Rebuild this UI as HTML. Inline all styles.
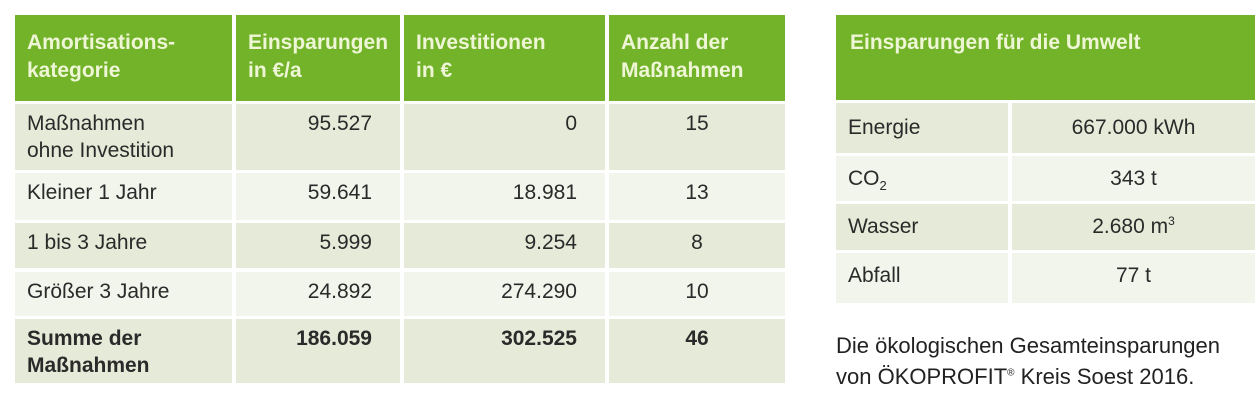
<!DOCTYPE html>
<html><head><meta charset="utf-8"><style>
body{margin:0;width:1260px;height:402px;background:#fff;position:relative;overflow:hidden;font-family:"Liberation Sans Narrow","Liberation Sans",sans-serif;color:#2a2a2a}
.c{position:absolute;box-sizing:border-box;font-size:21px;line-height:27px;padding:6px 12px}
.h{background:#72b32a;color:#eef6d6;font-weight:bold;font-size:21px;line-height:28px;padding-top:14px}
.d{background:#e6ead8}.l{background:#f2f5ec}
.r{text-align:right;padding-right:28px}.m{text-align:center}
.b{font-weight:bold}
sup,sub{line-height:0}
</style></head><body>
<div class="c h" style="left:15px;top:15px;width:217px;height:86px">Amortisations-<br>kategorie</div>
<div class="c h" style="left:236px;top:15px;width:164px;height:86px">Einsparungen<br>in €/a</div>
<div class="c h" style="left:404px;top:15px;width:201px;height:86px">Investitionen<br>in €</div>
<div class="c h" style="left:609px;top:15px;width:176px;height:86px">Anzahl der<br>Maßnahmen</div>

<div class="c d" style="left:15px;top:104px;width:217px;height:66px">Maßnahmen<br>ohne Investition</div>
<div class="c d r" style="left:236px;top:104px;width:164px;height:66px">95.527</div>
<div class="c d r" style="left:404px;top:104px;width:201px;height:66px">0</div>
<div class="c d m" style="left:609px;top:104px;width:176px;height:66px">15</div>

<div class="c l" style="left:15px;top:173px;width:217px;height:47px">Kleiner 1 Jahr</div>
<div class="c l r" style="left:236px;top:173px;width:164px;height:47px">59.641</div>
<div class="c l r" style="left:404px;top:173px;width:201px;height:47px">18.981</div>
<div class="c l m" style="left:609px;top:173px;width:176px;height:47px">13</div>

<div class="c d" style="left:15px;top:223px;width:217px;height:45px">1 bis 3 Jahre</div>
<div class="c d r" style="left:236px;top:223px;width:164px;height:45px">5.999</div>
<div class="c d r" style="left:404px;top:223px;width:201px;height:45px">9.254</div>
<div class="c d m" style="left:609px;top:223px;width:176px;height:45px">8</div>

<div class="c l" style="left:15px;top:272px;width:217px;height:44px">Größer 3 Jahre</div>
<div class="c l r" style="left:236px;top:272px;width:164px;height:44px">24.892</div>
<div class="c l r" style="left:404px;top:272px;width:201px;height:44px">274.290</div>
<div class="c l m" style="left:609px;top:272px;width:176px;height:44px">10</div>

<div class="c d b" style="left:15px;top:319px;width:217px;height:64px">Summe der<br>Maßnahmen</div>
<div class="c d r b" style="left:236px;top:319px;width:164px;height:64px">186.059</div>
<div class="c d r b" style="left:404px;top:319px;width:201px;height:64px">302.525</div>
<div class="c d m b" style="left:609px;top:319px;width:176px;height:64px">46</div>

<div class="c h" style="left:836px;top:15px;width:419px;height:85px;padding-left:14px">Einsparungen für die Umwelt</div>
<div class="c d" style="left:836px;top:103px;width:172px;height:50px;padding-top:11px">Energie</div>
<div class="c d m" style="left:1012px;top:103px;width:243px;height:50px;padding-top:11px">667.000 kWh</div>
<div class="c l" style="left:836px;top:156px;width:172px;height:45px;padding-top:9px">CO<sub style="font-size:13px">2</sub></div>
<div class="c l m" style="left:1012px;top:156px;width:243px;height:45px;padding-top:9px">343 t</div>
<div class="c d" style="left:836px;top:204px;width:172px;height:46px;padding-top:9px">Wasser</div>
<div class="c d m" style="left:1012px;top:204px;width:243px;height:46px;padding-top:9px">2.680 m<sup style="font-size:12px">3</sup></div>
<div class="c l" style="left:836px;top:253px;width:172px;height:50px;padding-top:9px">Abfall</div>
<div class="c l m" style="left:1012px;top:253px;width:243px;height:50px;padding-top:9px">77 t</div>

<div style="position:absolute;left:836px;top:330px;font-size:22px;line-height:31px;color:#222">Die ökologischen Gesamteinsparungen<br>von ÖKOPROFIT<sup style="font-size:10px">®</sup> Kreis Soest 2016.</div>
</body></html>
